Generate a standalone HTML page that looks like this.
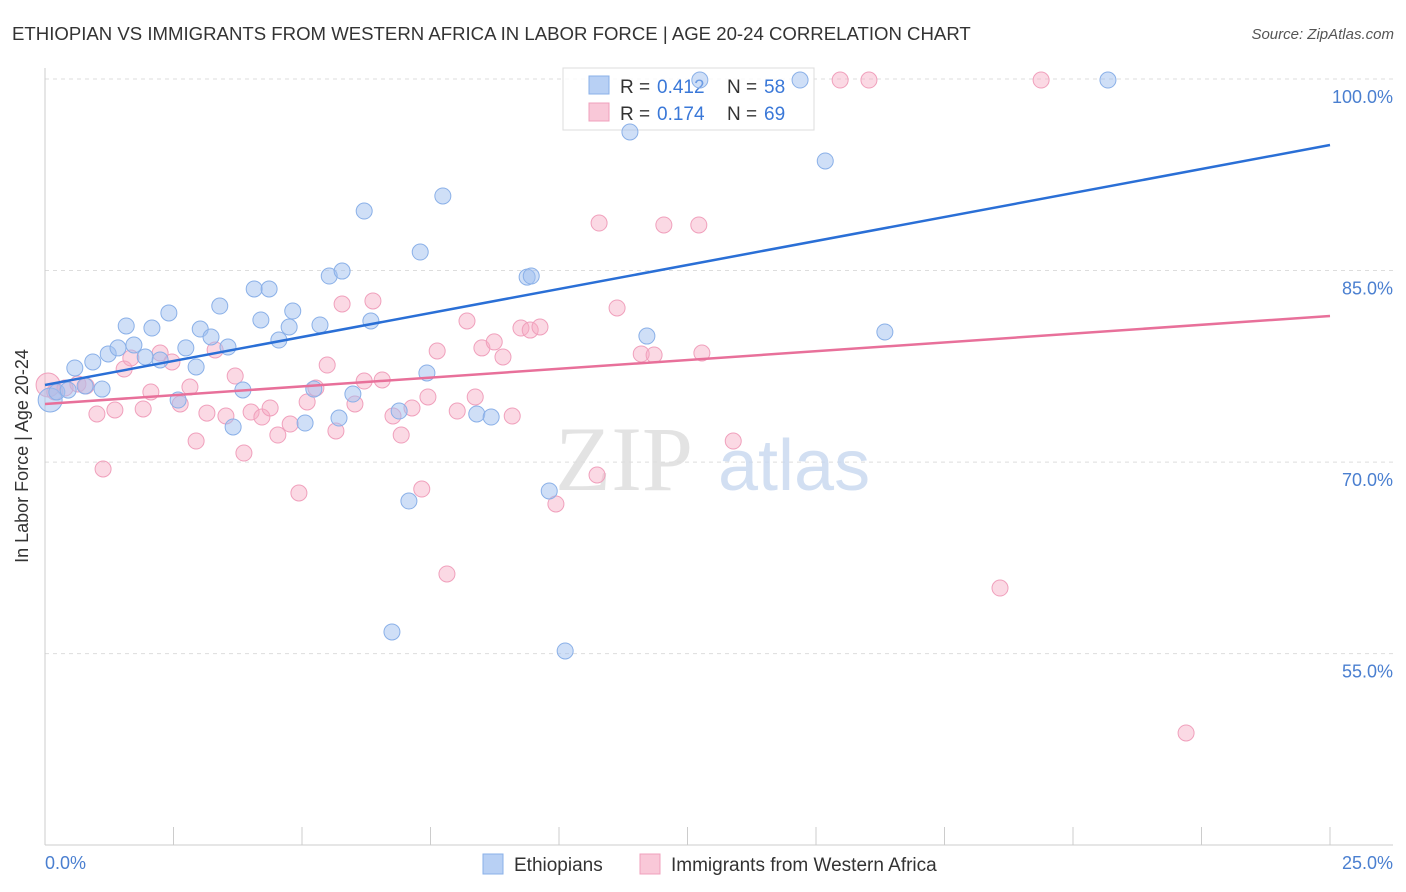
<!DOCTYPE html>
<html><head><meta charset="utf-8"><style>
body{margin:0;background:#fff;font-family:"Liberation Sans",sans-serif;}
svg{display:block}
</style></head><body>
<svg id="chart" width="1406" height="892" xmlns="http://www.w3.org/2000/svg">
<text x="12" y="40" font-size="18.6" fill="#333">ETHIOPIAN VS IMMIGRANTS FROM WESTERN AFRICA IN LABOR FORCE | AGE 20-24 CORRELATION CHART</text>
<text x="1394" y="39" font-size="15" fill="#555" font-style="italic" text-anchor="end">Source: ZipAtlas.com</text>
<g id="grid"></g>
<g><text x="555" y="490" font-size="92" font-family="Liberation Serif" fill="#ddd" opacity="0.8">ZIP</text><text x="718" y="490" font-size="72" fill="#c8d8f0" opacity="0.8">atlas</text></g>
<line x1="45" y1="68" x2="45" y2="845" stroke="#ccc"/>
<line x1="45" y1="845" x2="1393" y2="845" stroke="#ccc"/>
<g id="ticks"></g>
<g>
<rect x="563" y="68" width="251" height="62" fill="#fff" fill-opacity="0.85" stroke="#ddd"/>
<rect x="589" y="76" width="20" height="18" fill="#b8d0f4" stroke="#8ab0e8"/>
<rect x="589" y="103" width="20" height="18" fill="#f9c8d8" stroke="#f0a0bc"/>
<text x="620" y="93" font-size="19" fill="#333">R =</text><text x="657" y="93" font-size="19" fill="#3a78d8">0.412</text>
<text x="727" y="93" font-size="19" fill="#333">N =</text><text x="764" y="93" font-size="19" fill="#3a78d8">58</text>
<text x="620" y="120" font-size="19" fill="#333">R =</text><text x="657" y="120" font-size="19" fill="#3a78d8">0.174</text>
<text x="727" y="120" font-size="19" fill="#333">N =</text><text x="764" y="120" font-size="19" fill="#3a78d8">69</text>
</g>
<g id="pts"></g>
<g id="trends"></g>
<text x="28" y="456" font-size="18" fill="#333" text-anchor="middle" transform="rotate(-90 28 456)">In Labor Force | Age 20-24</text>
<text x="45" y="869" font-size="18" fill="#4a7fd0">0.0%</text>
<text x="1393" y="869" font-size="18" fill="#4a7fd0" text-anchor="end">25.0%</text>
<g>
<rect x="483" y="854" width="20" height="20" fill="#b8d0f4" stroke="#8ab0e8"/>
<text x="514" y="871" font-size="19" fill="#333">Ethiopians</text>
<rect x="640" y="854" width="20" height="20" fill="#f9c8d8" stroke="#f0a0bc"/>
<text x="671" y="871" font-size="19" fill="#333">Immigrants from Western Africa</text>
</g>
</svg>
<script>
const yTicks=[100,85,70,55];
const yTickLabels=["100.0%","85.0%","70.0%","55.0%"];
const blueX=[0.10,0.23,0.45,0.58,0.78,0.93,1.11,1.23,1.42,1.58,1.73,1.95,2.08,2.24,2.41,2.59,2.74,2.94,3.02,3.23,3.40,3.56,3.66,3.85,4.07,4.20,4.36,4.55,4.75,4.82,5.06,5.23,5.35,5.53,5.72,5.78,5.99,6.21,6.34,6.75,6.89,7.08,7.30,7.43,7.74,8.40,8.68,9.38,9.46,9.81,10.12,11.38,11.71,12.74,14.69,15.18,16.34,20.68];
const blueY=[74.86,75.49,75.64,77.37,75.96,77.84,75.72,78.47,78.94,80.66,79.17,78.23,80.50,78.00,81.68,74.86,78.94,77.45,80.42,79.80,82.22,79.01,72.75,75.65,83.56,81.13,83.56,79.56,80.58,81.83,73.06,75.72,80.74,84.57,73.45,84.96,75.33,89.66,81.05,56.70,74.00,66.95,86.45,76.98,90.84,73.77,73.53,84.49,84.57,67.74,55.21,95.85,79.87,99.92,99.92,93.58,80.19,99.92];
const pinkX=[0.06,0.19,0.39,0.64,0.80,1.01,1.13,1.36,1.54,1.67,1.91,2.06,2.24,2.47,2.63,2.82,2.94,3.15,3.31,3.52,3.70,3.87,4.01,4.22,4.38,4.53,4.77,4.94,5.10,5.27,5.49,5.66,5.78,6.03,6.21,6.38,6.56,6.77,6.93,7.14,7.33,7.45,7.63,7.82,8.02,8.21,8.37,8.50,8.74,8.91,9.09,9.26,9.44,9.63,9.94,10.74,10.78,11.13,11.60,11.85,12.04,12.72,12.78,13.39,15.47,16.03,18.58,19.38,22.20];
const pinkY=[76.04,75.49,75.80,76.12,75.96,73.77,69.46,74.08,77.29,78.15,74.16,75.49,78.54,77.84,74.55,75.88,71.65,73.84,78.78,73.61,76.74,70.71,73.92,73.53,74.24,72.12,72.98,67.58,74.71,75.80,77.60,72.44,82.38,74.55,76.35,82.62,76.43,73.61,72.12,74.24,67.89,75.10,78.70,61.24,74.00,81.05,75.10,78.94,79.41,78.23,73.61,80.50,80.34,80.58,66.72,68.99,88.72,82.07,78.47,78.39,88.57,88.57,78.54,71.65,99.92,99.92,60.14,99.92,48.79];
const blueTrend=[76.04,94.83];
const pinkTrend=[74.55,81.44];
const NS="http://www.w3.org/2000/svg";
const X=v=>45+v/25*1285;
const Y=v=>79+(100-v)*12.77;
function mk(t,a,p){const e=document.createElementNS(NS,t);for(const k in a)e.setAttribute(k,a[k]);p.appendChild(e);return e;}
const grid=document.getElementById('grid');
yTicks.forEach((t,i)=>{
 const l=mk('line',{x1:45,x2:1393,y1:Y(t),y2:Y(t),stroke:'#ddd','stroke-dasharray':'4,4'},grid);
 
 
 const tx=mk('text',{x:1393,y:Y(t)+24,'font-size':18,fill:'#4a7fd0','text-anchor':'end'},grid);
 tx.textContent=yTickLabels[i];
 
 
});
const ticks=document.getElementById('ticks');
for(let i=0;i<=10;i++){
 const l=mk('line',{x1:X(i*2.5),x2:X(i*2.5),y1:827,y2:845,stroke:'#ccc'},ticks);
 
 
}
const pts=document.getElementById('pts');
function series(xs,ys,fill,stroke,name){
 xs.forEach((x,i)=>{
  const r=i===0?12:8;
  const c=mk('circle',{cx:X(x),cy:Y(ys[i]),r:r,fill:fill,stroke:stroke,'stroke-width':1},pts);
  
  
 });
}
series(pinkX,pinkY,'rgba(246,170,196,0.45)','#f0a0bc','point-immigrants');
series(blueX,blueY,'rgba(160,192,240,0.5)','#8ab0e8','point-ethiopians');
const tr=document.getElementById('trends');
const b=mk('line',{x1:X(0),y1:Y(blueTrend[0]),x2:X(25),y2:Y(blueTrend[1]),stroke:'#2a6fd6','stroke-width':2.5},tr);


const p=mk('line',{x1:X(0),y1:Y(pinkTrend[0]),x2:X(25),y2:Y(pinkTrend[1]),stroke:'#e8709a','stroke-width':2.5},tr);


</script>
</body></html>
